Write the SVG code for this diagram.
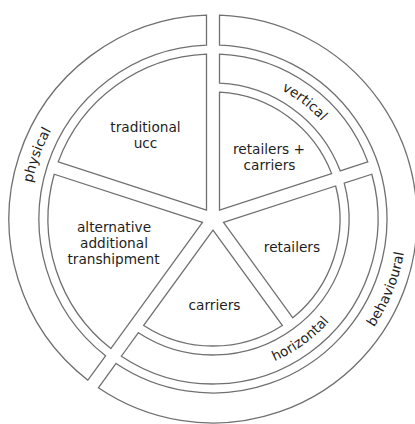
<svg xmlns="http://www.w3.org/2000/svg" width="415" height="424" viewBox="0 0 415 424">
<style>
.seg{fill:#fff;stroke:#707070;stroke-width:1.3;stroke-linejoin:miter}
.lbl{font-family:"DejaVu Sans",Verdana,sans-serif;font-size:13.7px;fill:#1e1e1e;text-anchor:middle}
</style>
<defs>
<path id="pPhys" d="M39.63,282.10 A184.5,184.5 0 0 1 120.75,59.22"/>
<path id="pVert" d="M207.90,73.09 A146,146 0 0 1 355.81,188.65"/>
<path id="pHor" d="M202.19,373.62 A155,155 0 0 0 363.40,256.50"/>
<path id="pBeh" d="M304.08,390.29 A194,194 0 0 0 397.51,159.05"/>
</defs>
<rect width="415" height="424" fill="#fff"/>
<g id="connectors"></g>
<g id="physical">
<path class="seg" d="M87.89,380.14 A204,204 0 0 1 206.5,15.10 L206.5,45.12 A174,174 0 0 0 105.54,355.85 Z"/>
<text class="lbl"><textPath href="#pPhys" startOffset="50%">physical</textPath></text>
</g>
<g id="behavioural">
<path class="seg" d="M219.5,15.10 A204,204 0 1 1 98.41,387.78 L116.06,363.49 A174,174 0 1 0 219.5,45.12 Z"/>
<text class="lbl"><textPath href="#pBeh" startOffset="50%">behavioural</textPath></text>
</g>
<g id="vertical">
<path class="seg" d="M219.5,54.13 A165,165 0 0 1 367.79,161.87 L340.19,170.84 A136,136 0 0 0 219.5,83.16 Z"/>
<text class="lbl"><textPath href="#pVert" startOffset="50%">vertical</textPath></text>
</g>
<g id="horizontal">
<path class="seg" d="M371.81,174.23 A165,165 0 0 1 121.35,356.21 L138.41,332.72 A136,136 0 0 0 344.21,183.20 Z"/>
<text class="lbl"><textPath href="#pHor" startOffset="50%">horizontal</textPath></text>
</g>
<g id="traditional-ucc">
<path class="seg" d="M206.5,210.05 L58.21,161.87 A165,165 0 0 1 206.5,54.13 Z"/>
<text class="lbl" x="145.5" y="132">traditional</text>
<text class="lbl" x="145.5" y="148">ucc</text>
</g>
<g id="retailers-carriers">
<path class="seg" d="M219.5,210.05 L219.5,92.17 A127,127 0 0 1 331.62,173.62 Z"/>
<text class="lbl" x="269" y="154">retailers +</text>
<text class="lbl" x="269.5" y="170">carriers</text>
</g>
<g id="retailers">
<path class="seg" d="M223.52,222.42 L335.64,185.99 A127,127 0 0 1 292.81,317.79 Z"/>
<text class="lbl" x="292" y="252">retailers</text>
</g>
<g id="carriers">
<path class="seg" d="M213,230.06 L282.29,325.43 A127,127 0 0 1 143.71,325.43 Z"/>
<text class="lbl" x="214.5" y="310">carriers</text>
</g>
<g id="alternative">
<path class="seg" d="M202.48,222.42 L110.83,348.56 A165,165 0 0 1 54.19,174.23 Z"/>
<text class="lbl" x="114" y="232">alternative</text>
<text class="lbl" x="114" y="248">additional</text>
<text class="lbl" x="113.5" y="264">transhipment</text>
</g>
</svg>
